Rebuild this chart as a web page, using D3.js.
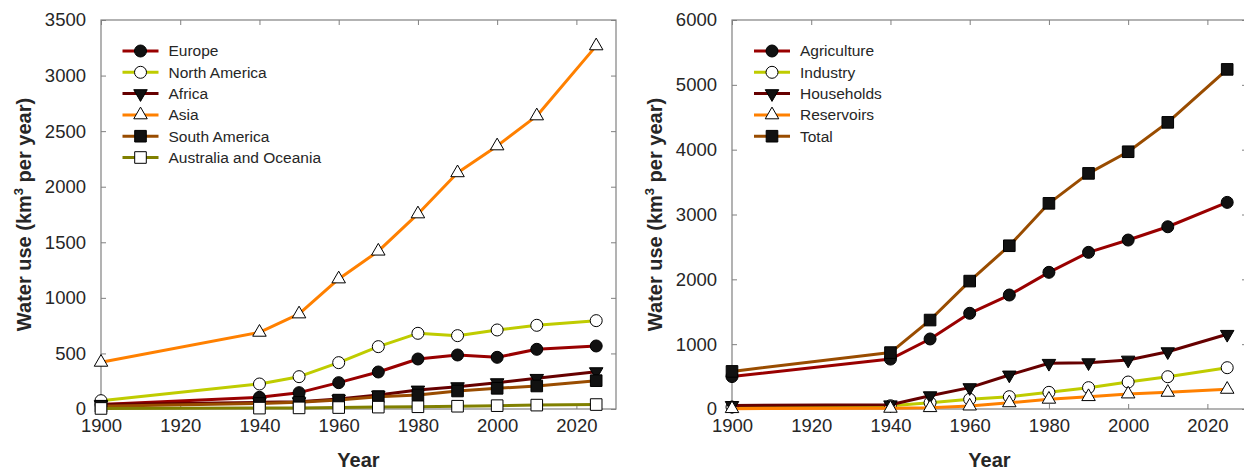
<!DOCTYPE html>
<html><head><meta charset="utf-8">
<script src="https://cdn.jsdelivr.net/npm/d3@7"></script>
<style>
html,body{margin:0;padding:0;background:#fff;}
svg{display:block;font-family:"Liberation Sans",Arial,sans-serif;}
</style></head>
<body><svg id="c" width="1244" height="472"></svg>
<script>
const years = [1900,1940,1950,1960,1970,1980,1990,2000,2010,2025];
const xTicks = [1900,1920,1940,1960,1980,2000,2020];
const leftYTicks = [0,500,1000,1500,2000,2500,3000,3500];
const rightYTicks = [0,1000,2000,3000,4000,5000,6000];

// Left panel: by region
const europe       = [40,105,147,237,333,450,486,465,537,567];
const northAmerica = [75,225,291,417,561,681,660,711,753,795];
const africa       = [40,60,66,90,126,171,201,237,276,336];
const asia         = [420,690,855,1170,1420,1755,2125,2367,2637,3267];
const southAmerica = [25,50,60,80,111,126,162,186,207,255];
const australia    = [5,8,10,13,17,20,25,30,35,40];

// Right panel: by sector
const agriculture = [500,770,1080,1476,1758,2108,2416,2606,2811,3187];
const industry    = [30,50,97,150,190,257,329,416,498,637];
const households  = [55,65,205,330,525,705,714,755,884,1152];
const reservoirs  = [5,10,20,45,95,150,190,231,257,303];
const total       = [580,870,1372,1973,2518,3172,3634,3968,4421,5238];

const C = {dred:"#990000", ygreen:"#bfcc00", vdred:"#660000", orange:"#ff8000", brown:"#994c00", olive:"#808000"};

const leftSeries = [
  {name:"Europe", values:europe, color:C.dred, marker:"circle", fill:"#111"},
  {name:"North America", values:northAmerica, color:C.ygreen, marker:"circle", fill:"#fff"},
  {name:"Africa", values:africa, color:C.vdred, marker:"down", fill:"#111"},
  {name:"Asia", values:asia, color:C.orange, marker:"up", fill:"#fff"},
  {name:"South America", values:southAmerica, color:C.brown, marker:"square", fill:"#111"},
  {name:"Australia and Oceania", values:australia, color:C.olive, marker:"square", fill:"#fff"}
];
const rightSeries = [
  {name:"Agriculture", values:agriculture, color:C.dred, marker:"circle", fill:"#111"},
  {name:"Industry", values:industry, color:C.ygreen, marker:"circle", fill:"#fff"},
  {name:"Households", values:households, color:C.vdred, marker:"down", fill:"#111"},
  {name:"Reservoirs", values:reservoirs, color:C.orange, marker:"up", fill:"#fff"},
  {name:"Total", values:total, color:C.brown, marker:"square", fill:"#111"}
];

function markerPath(type){
  if(type==="circle"){ const r=6; return `M${-r},0A${r},${r} 0 1,0 ${r},0A${r},${r} 0 1,0 ${-r},0Z`; }
  if(type==="square"){ const h=5.8; return `M${-h},${-h}H${h}V${h}H${-h}Z`; }
  const s=13.5, hgt=s*Math.sqrt(3)/2;
  if(type==="up") return `M0,${-hgt*2/3}L${s/2},${hgt/3}L${-s/2},${hgt/3}Z`;
  return `M0,${hgt*2/3}L${s/2},${-hgt/3}L${-s/2},${-hgt/3}Z`;
}

const svg = d3.select("#c");
const axisColor = "#808080", textColor = "#262626";

function panel(opts){
  const {x0, x1, y0, y1, ymax, yTicks, series, legendX, labelX} = opts;
  const g = svg.append("g");
  const x = d3.scaleLinear().domain([1900,2030]).range([x0,x1]);
  const y = d3.scaleLinear().domain([0,ymax]).range([y1,y0]);

  const bottom = g.append("g").attr("transform",`translate(0,${y1})`)
    .call(d3.axisBottom(x).tickValues(xTicks).tickFormat(d3.format("d")).tickSizeInner(-5).tickSizeOuter(0).tickPadding(14));
  const top = g.append("g").attr("transform",`translate(0,${y0})`)
    .call(d3.axisTop(x).tickValues(xTicks).tickFormat("").tickSizeInner(-5).tickSizeOuter(0));
  const left = g.append("g").attr("transform",`translate(${x0},0)`)
    .call(d3.axisLeft(y).tickValues(yTicks).tickFormat(d3.format("d")).tickSizeInner(-5).tickSizeOuter(0).tickPadding(15));
  const right = g.append("g").attr("transform",`translate(${x1},0)`)
    .call(d3.axisRight(y).tickValues(yTicks).tickFormat("").tickSizeInner(-5).tickSizeOuter(0));
  [bottom,top,left,right].forEach(a=>{
    a.select(".domain").remove();
    a.selectAll(".tick line").attr("stroke",axisColor);
    a.selectAll(".tick text").attr("fill",textColor).style("font-size","18.5px");
  });
  bottom.selectAll(".tick text").attr("dy","0.5em");
  g.append("rect").attr("x",x0).attr("y",y0).attr("width",x1-x0).attr("height",y1-y0)
    .attr("fill","none").attr("stroke",axisColor).attr("stroke-width",1.2);

  g.append("text").attr("x",(x0+x1)/2).attr("y",467).attr("text-anchor","middle")
    .attr("fill",textColor).style("font-size","20px").style("font-weight","bold").text("Year");
  const yl = g.append("text").attr("transform",`translate(${labelX},${(y0+y1)/2}) rotate(-90)`)
    .attr("text-anchor","middle").attr("fill",textColor).style("font-size","20px").style("font-weight","bold");
  yl.append("tspan").text("Water use (km");
  yl.append("tspan").attr("dy","-8").style("font-size","13px").text("3");
  yl.append("tspan").attr("dy","8").text(" per year)");

  const line = d3.line().x((d,i)=>x(years[i])).y(d=>y(d));
  series.forEach(s=>{
    const sg = g.append("g");
    sg.append("path").datum(s.values).attr("d",line).attr("fill","none")
      .attr("stroke",s.color).attr("stroke-width",3).attr("stroke-linejoin","round");
    sg.selectAll("path.m").data(s.values).enter().append("path").attr("class","m")
      .attr("transform",(d,i)=>`translate(${x(years[i])},${y(d)})`)
      .attr("d",markerPath(s.marker)).attr("fill",s.fill).attr("stroke","#000").attr("stroke-width",1);
  });

  const lg = g.append("g");
  series.forEach((s,i)=>{
    const ly = 51 + i*21.3;
    lg.append("line").attr("x1",legendX).attr("x2",legendX+36).attr("y1",ly).attr("y2",ly)
      .attr("stroke",s.color).attr("stroke-width",3);
    lg.append("path").attr("transform",`translate(${legendX+18},${ly})`).attr("d",markerPath(s.marker))
      .attr("fill",s.fill).attr("stroke","#000").attr("stroke-width",1);
    lg.append("text").attr("x",legendX+46).attr("y",ly).attr("dy","0.35em")
      .attr("fill",textColor).style("font-size","15.5px").text(s.name);
  });
}

panel({x0:101, x1:616, y0:20, y1:409, ymax:3500, yTicks:leftYTicks, series:leftSeries, legendX:122.5, labelX:31});
panel({x0:732, x1:1247, y0:20, y1:409, ymax:6000, yTicks:rightYTicks, series:rightSeries, legendX:754, labelX:662});
</script></body></html>
